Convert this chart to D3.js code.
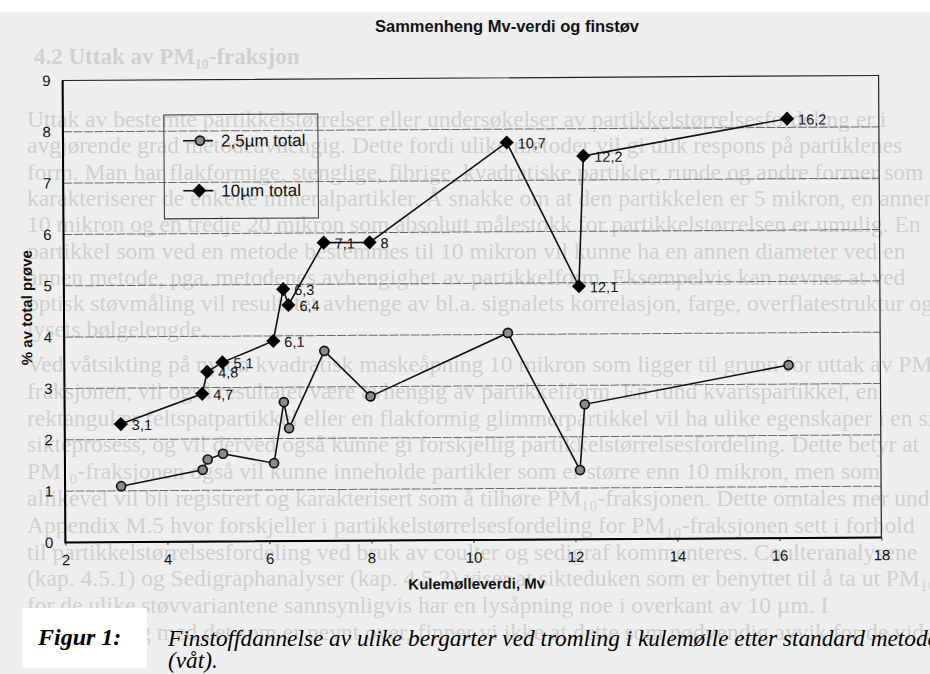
<!DOCTYPE html>
<html>
<head>
<meta charset="utf-8">
<script src="https://cdn.jsdelivr.net/npm/d3@7"></script>
<style>
    body { margin: 0; background: #fff; }
</style>
</head>
<body>
<div id="elements"></div>
<script>
// Mv values (x) and % of total sample for both fractions
var mv = [3.1, 4.7, 4.8, 5.1, 6.1, 6.3, 6.4, 7.1, 8, 10.7, 12.1, 12.2, 16.2];
var pm25 = [1.09, 1.40, 1.60, 1.71, 1.52, 2.71, 2.20, 3.70, 2.81, 4.03, 1.35, 2.63, 3.37];
var pm10 = [2.30, 2.88, 3.31, 3.49, 3.90, 4.91, 4.60, 5.81, 5.81, 7.74, 4.93, 7.47, 8.17];

var xTicks = [2, 4, 6, 8, 10, 12, 14, 16, 18];
var yTicks = [0, 1, 2, 3, 4, 5, 6, 7, 8, 9];
var gridTicks = [1, 2, 3, 4, 5, 6, 7, 8];
var seriesNames = ["2,5µm total", "10µm total"];

var chartTitle = "Sammenheng Mv-verdi og finstøv";
var xTitle = "Kulemølleverdi, Mv";
var yTitle = "% av total prøve";
var captionLabel = "Figur 1:";
var captionLines = ["Finstoffdannelse av ulike bergarter ved tromling i kulemølle etter standard metode", "(våt)."];

// faded report text behind the chart (scanned page)
var pageHeading = "4.2  Uttak av PM₁₀-fraksjon";
var pageLines1 = [
    "Uttak av bestemte partikkelstørrelser eller undersøkelser av partikkelstørrelsesfordeling er i",
    "avgjørende grad metodeavhengig.  Dette fordi ulike metoder vil gi ulik respons på partiklenes",
    "form.  Man har flakformige, stenglige, fibrige, kvadratiske partikler, runde og andre former som",
    "karakteriserer de enkelte mineralpartikler.  Å snakke om at den partikkelen er 5 mikron, en annen",
    "10 mikron og en tredje 20 mikron som absolutt målestokk for partikkelstørrelsen er umulig.  En",
    "partikkel som ved en metode bestemmes til 10 mikron vil kunne ha en annen diameter ved en",
    "annen metode, pga. metodenes avhengighet av partikkelform.  Eksempelvis kan nevnes at ved",
    "optisk støvmåling vil resultatet avhenge av bl.a. signalets korrelasjon, farge, overflatestruktur og",
    "lysets bølgelengde."
];
var pageLines2 = [
    "Ved våtsikting på nylon kvadratisk maskeåpning 10 mikron som ligger til grunn for uttak av PM₁₀-",
    "fraksjonen, vil også resultatet være avhengig av partikkelform.  En rund kvartspartikkel, en",
    "rektangulær feltspatpartikkel eller en flakformig glimmerpartikkel vil ha ulike egenskaper i en sikte-",
    "sikteprosess, og vil derved også kunne gi forskjellig partikkelstørrelsesfordeling.  Dette betyr at",
    "PM₁₀-fraksjonen også vil kunne inneholde partikler som er større enn 10 mikron, men som",
    "allikevel vil bli registrert og karakterisert som å tilhøre PM₁₀-fraksjonen.  Dette omtales mer under",
    "Appendix M.5 hvor forskjeller i partikkelstørrelsesfordeling for PM₁₀-fraksjonen sett i forhold",
    "til partikkelstørrelsesfordeling ved bruk av coulter og sedigraf kommenteres.  Coulteranalysene",
    "(kap. 4.5.1) og Sedigraphanalyser (kap. 4.5.2) viser at sikteduken som er benyttet til å ta ut PM₁₀",
    "for de ulike støvvariantene sannsynligvis har en lysåpning noe i overkant av 10 µm.  I",
    "sammenheng med det som er nevnt over, finner vi ikke at dette som nødvendig avvik for de videre"
];

var width = 930,
    height = 674;

var svg = d3.select("#elements").append("svg")
    .attr("width", width)
    .attr("height", height);

// page background
svg.append("rect")
    .attr("x", 0).attr("y", 12)
    .attr("width", width).attr("height", height - 12)
    .attr("fill", "#efefef");

var page = svg.append("g")
    .attr("font-family", "'Liberation Serif', 'Times New Roman', serif")
    .attr("fill", "#d0d0d0");

page.append("text")
    .attr("x", 34).attr("y", 64)
    .attr("font-size", 23)
    .attr("font-weight", "bold")
    .text(pageHeading);

page.selectAll("text.p1")
    .data(pageLines1)
    .enter().append("text")
    .attr("class", "p1")
    .attr("x", 27)
    .attr("y", function(d, i) { return 127 + i * 26.3; })
    .attr("font-size", 23.5)
    .text(function(d) { return d; });

page.selectAll("text.p2")
    .data(pageLines2)
    .enter().append("text")
    .attr("class", "p2")
    .attr("x", 27)
    .attr("y", function(d, i) { return 372 + i * 26.8; })
    .attr("font-size", 23.5)
    .text(function(d) { return d; });

// chart title
svg.append("text")
    .attr("x", 507).attr("y", 32)
    .attr("text-anchor", "middle")
    .attr("font-family", "'Liberation Sans', Arial, sans-serif")
    .attr("font-size", 16.5)
    .attr("font-weight", "bold")
    .attr("fill", "#111")
    .text(chartTitle);

// the scan is slightly tilted
var g = svg.append("g")
    .attr("transform", "rotate(-0.35, 472, 310)")
    .attr("font-family", "'Liberation Sans', Arial, sans-serif");

var x = d3.scaleLinear().domain([2, 18]).range([64, 880]);
var y = d3.scaleLinear().domain([0, 9]).range([540, 78]);

// gridlines
g.append("g")
    .selectAll("line")
    .data(gridTicks)
    .enter().append("line")
    .attr("x1", x(2)).attr("x2", x(18))
    .attr("y1", function(d) { return y(d); })
    .attr("y2", function(d) { return y(d); })
    .attr("stroke", "#6a6a6a")
    .attr("stroke-width", 1)
    .attr("stroke-dasharray", "9,1.5");

// frame
g.append("rect")
    .attr("x", x(2)).attr("y", y(9))
    .attr("width", x(18) - x(2)).attr("height", y(0) - y(9))
    .attr("fill", "none")
    .attr("stroke", "#222")
    .attr("stroke-width", 1.2);

g.append("path")
    .attr("d", "M" + x(2) + "," + y(9) + "V" + y(0) + "H" + x(18))
    .attr("fill", "none")
    .attr("stroke", "#000")
    .attr("stroke-width", 2);

// axes
var xAxis = g.append("g")
    .attr("transform", "translate(0," + y(0) + ")")
    .call(d3.axisBottom(x).tickValues(xTicks).tickSize(3).tickPadding(9));
var yAxis = g.append("g")
    .attr("transform", "translate(" + x(2) + ",0)")
    .call(d3.axisLeft(y).tickValues(yTicks).tickSize(0).tickPadding(12));

[xAxis, yAxis].forEach(function(a) {
    a.select(".domain").remove();
    a.selectAll("text")
        .attr("font-family", "'Liberation Sans', Arial, sans-serif")
        .attr("font-size", 15)
        .attr("fill", "#111");
    a.selectAll("line").attr("stroke", "#222");
});

// axis titles
g.append("text")
    .attr("x", 475).attr("y", 589)
    .attr("text-anchor", "middle")
    .attr("font-size", 15)
    .attr("font-weight", "bold")
    .attr("fill", "#111")
    .text(xTitle);

g.append("text")
    .attr("transform", "translate(32,305) rotate(-90)")
    .attr("text-anchor", "middle")
    .attr("font-size", 15)
    .attr("font-weight", "bold")
    .attr("fill", "#111")
    .text(yTitle);

// series lines
var line = d3.line()
    .x(function(d) { return x(d[0]); })
    .y(function(d) { return y(d[1]); });

var data25 = mv.map(function(v, i) { return [v, pm25[i]]; });
var data10 = mv.map(function(v, i) { return [v, pm10[i]]; });

g.append("path")
    .datum(data25)
    .attr("d", line)
    .attr("fill", "none")
    .attr("stroke", "#111")
    .attr("stroke-width", 1.6);

g.append("path")
    .datum(data10)
    .attr("d", line)
    .attr("fill", "none")
    .attr("stroke", "#111")
    .attr("stroke-width", 1.6);

var diamond = d3.symbol().type(d3.symbolSquare).size(100);

function drawCircle(sel, cx, cy) {
    sel.append("circle")
        .attr("cx", cx).attr("cy", cy)
        .attr("r", 4.5)
        .attr("fill", "#8a8a8a")
        .attr("stroke", "#111")
        .attr("stroke-width", 1.7);
}

function drawDiamond(sel, cx, cy) {
    sel.append("path")
        .attr("d", diamond)
        .attr("transform", "translate(" + cx + "," + cy + ") rotate(45)")
        .attr("fill", "#000");
}

var pts25 = g.append("g");
data25.forEach(function(d) { drawCircle(pts25, x(d[0]), y(d[1])); });

var pts10 = g.append("g");
data10.forEach(function(d) { drawDiamond(pts10, x(d[0]), y(d[1])); });

// point labels (Mv value, comma decimal)
g.append("g")
    .selectAll("text")
    .data(data10)
    .enter().append("text")
    .attr("x", function(d) { return x(d[0]) + 11; })
    .attr("y", function(d) { return y(d[1]) + 6; })
    .attr("font-size", 14.5)
    .attr("fill", "#111")
    .text(function(d) { return String(d[0]).replace(".", ","); });

// legend
var legend = g.append("g");
legend.append("rect")
    .attr("x", 165).attr("y", 113)
    .attr("width", 154).attr("height", 104)
    .attr("fill", "none")
    .attr("stroke", "#333")
    .attr("stroke-width", 1);

seriesNames.forEach(function(name, i) {
    var ly = 139 + i * 50;
    legend.append("line")
        .attr("x1", 184).attr("x2", 214)
        .attr("y1", ly).attr("y2", ly)
        .attr("stroke", "#111")
        .attr("stroke-width", 1.6);
    if (i == 0) {
        drawCircle(legend, 201, ly);
    } else {
        drawDiamond(legend, 200, ly);
    }
    legend.append("text")
        .attr("x", 222).attr("y", ly + 6)
        .attr("font-size", 17)
        .attr("fill", "#111")
        .text(name);
});

// figure caption
svg.append("rect")
    .attr("x", 22).attr("y", 608)
    .attr("width", 125).attr("height", 60)
    .attr("fill", "#fff");

var caption = svg.append("g")
    .attr("font-family", "'Liberation Serif', 'Times New Roman', serif")
    .attr("font-style", "italic")
    .attr("fill", "#000");

caption.append("text")
    .attr("x", 38).attr("y", 645)
    .attr("font-size", 24)
    .attr("font-weight", "bold")
    .text(captionLabel);

caption.selectAll("text.cap")
    .data(captionLines)
    .enter().append("text")
    .attr("class", "cap")
    .attr("x", 168)
    .attr("y", function(d, i) { return 646 + i * 22; })
    .attr("font-size", 23.3)
    .text(function(d) { return d; });
</script>
</body>
</html>
